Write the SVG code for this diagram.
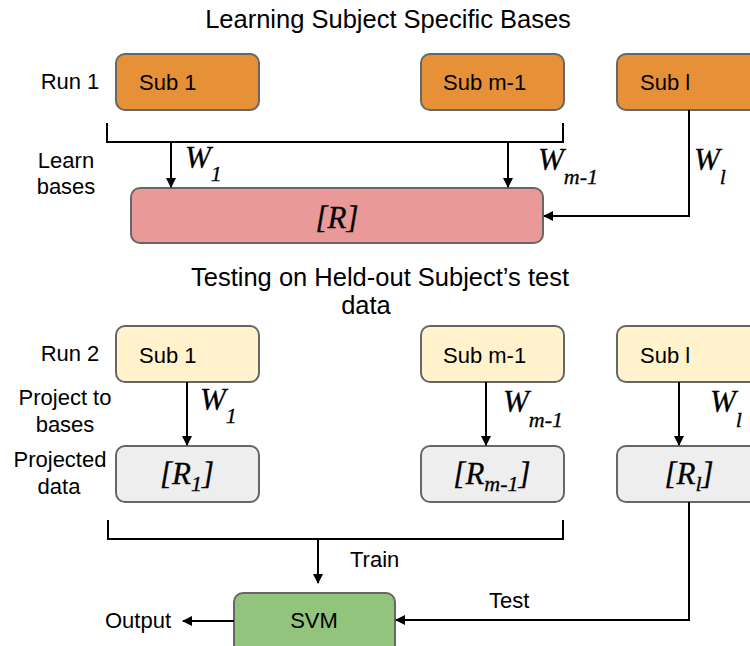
<svg xmlns="http://www.w3.org/2000/svg" width="750" height="646" viewBox="0 0 750 646">
<defs>
<style>
.t{font-family:"Liberation Sans",Arial,sans-serif;font-size:22px;fill:#000}
.ti{font-family:"Liberation Sans",Arial,sans-serif;font-size:25.5px;fill:#000}
.m{font-family:"Liberation Serif","DejaVu Serif",serif;font-style:italic;font-size:31px;fill:#000;stroke:#000;stroke-width:0.3}
.s{font-size:22px}
.box{stroke:#666;stroke-width:2}
.or{fill:#E69138}.pk{fill:#EA9999}.yl{fill:#FFF2CC}.gy{fill:#EEEEEE}.gr{fill:#93C47D}
.ln{fill:none;stroke:#000;stroke-width:2}
</style>
<marker id="ah" viewBox="0 0 10 10" refX="9" refY="5" markerWidth="10" markerHeight="10" markerUnits="userSpaceOnUse" orient="auto">
<path d="M0,0 L10,5 L0,10 z" fill="#000"/>
</marker>
</defs>
<rect width="750" height="646" fill="#fff"/>
<text class="ti" x="388" y="28" text-anchor="middle">Learning Subject Specific Bases</text>
<text class="ti" x="380" y="286" text-anchor="middle">Testing on Held-out Subject’s test</text>
<text class="ti" x="366" y="314" text-anchor="middle">data</text>
<g id="labels">
<text class="t" x="70" y="89" text-anchor="middle">Run 1</text>
<text class="t" x="66" y="168" text-anchor="middle">Learn</text>
<text class="t" x="66" y="194" text-anchor="middle">bases</text>
<text class="t" x="70" y="361" text-anchor="middle">Run 2</text>
<text class="t" x="65" y="405" text-anchor="middle">Project to</text>
<text class="t" x="65" y="432" text-anchor="middle">bases</text>
<text class="t" x="60" y="467" text-anchor="middle">Projected</text>
<text class="t" x="59" y="494" text-anchor="middle">data</text>
</g>
<g id="sub1-run1"><rect class="box or" x="116" y="54" width="143" height="56" rx="9"/><text class="t" x="139" y="90">Sub 1</text></g>
<g id="subm1-run1"><rect class="box or" x="421" y="54" width="143" height="56" rx="9"/><text class="t" x="443" y="90">Sub m-1</text></g>
<g id="subl-run1"><rect class="box or" x="617" y="54" width="143" height="56" rx="9"/><text class="t" x="640" y="90">Sub l</text></g>
<g id="R"><rect class="box pk" x="131" y="188" width="412" height="55" rx="9"/><text class="m" x="337" y="228" text-anchor="middle">[R]</text></g>
<g id="sub1-run2"><rect class="box yl" x="116" y="326" width="143" height="56" rx="9"/><text class="t" x="139" y="363">Sub 1</text></g>
<g id="subm1-run2"><rect class="box yl" x="421" y="326" width="143" height="56" rx="9"/><text class="t" x="443" y="363">Sub m-1</text></g>
<g id="subl-run2"><rect class="box yl" x="617" y="326" width="143" height="56" rx="9"/><text class="t" x="640" y="363">Sub l</text></g>
<g id="R1"><rect class="box gy" x="116" y="446" width="143" height="56" rx="9"/><text class="m" x="187" y="484" text-anchor="middle">[R<tspan class="s" dy="7">1</tspan><tspan dy="-7">]</tspan></text></g>
<g id="Rm1"><rect class="box gy" x="421" y="446" width="143" height="56" rx="9"/><text class="m" x="492" y="484" text-anchor="middle">[R<tspan class="s" dy="7">m-1</tspan><tspan dy="-7">]</tspan></text></g>
<g id="Rl"><rect class="box gy" x="617" y="446" width="143" height="56" rx="9"/><text class="m" x="689" y="484" text-anchor="middle">[R<tspan class="s" dy="7">l</tspan><tspan dy="-7">]</tspan></text></g>
<g id="svm"><rect class="box gr" x="234" y="593" width="161" height="62" rx="9"/><text class="t" x="314" y="628" text-anchor="middle">SVM</text></g>
<g id="connectors">
<polyline class="ln" points="107,123 107,142 563,142 563,123"/>
<line class="ln" x1="171" y1="142" x2="171" y2="187" marker-end="url(#ah)"/>
<line class="ln" x1="508" y1="142" x2="508" y2="187" marker-end="url(#ah)"/>
<polyline class="ln" points="689,110 689,216 544,216" marker-end="url(#ah)"/>
<line class="ln" x1="187" y1="382" x2="187" y2="445" marker-end="url(#ah)"/>
<line class="ln" x1="486" y1="382" x2="486" y2="445" marker-end="url(#ah)"/>
<line class="ln" x1="679" y1="382" x2="679" y2="445" marker-end="url(#ah)"/>
<polyline class="ln" points="108,520 108,539 563,539 563,520"/>
<line class="ln" x1="318" y1="539" x2="318" y2="583" marker-end="url(#ah)"/>
<polyline class="ln" points="689,502 689,620 396,620" marker-end="url(#ah)"/>
<line class="ln" x1="234" y1="621" x2="183" y2="621" marker-end="url(#ah)"/>
</g>
<g id="edge-labels">
<text class="m" x="185" y="168">W<tspan class="s" dy="13">1</tspan></text>
<text class="m" x="538" y="170">W<tspan class="s" dy="14">m-1</tspan></text>
<text class="m" x="694" y="170">W<tspan class="s" dy="14">l</tspan></text>
<text class="m" x="200" y="410">W<tspan class="s" dy="13">1</tspan></text>
<text class="m" x="503" y="412">W<tspan class="s" dy="15">m-1</tspan></text>
<text class="m" x="710" y="412">W<tspan class="s" dy="15">l</tspan></text>
<text class="t" x="350" y="567">Train</text>
<text class="t" x="489" y="608">Test</text>
<text class="t" x="105" y="628">Output</text>
</g>
</svg>
